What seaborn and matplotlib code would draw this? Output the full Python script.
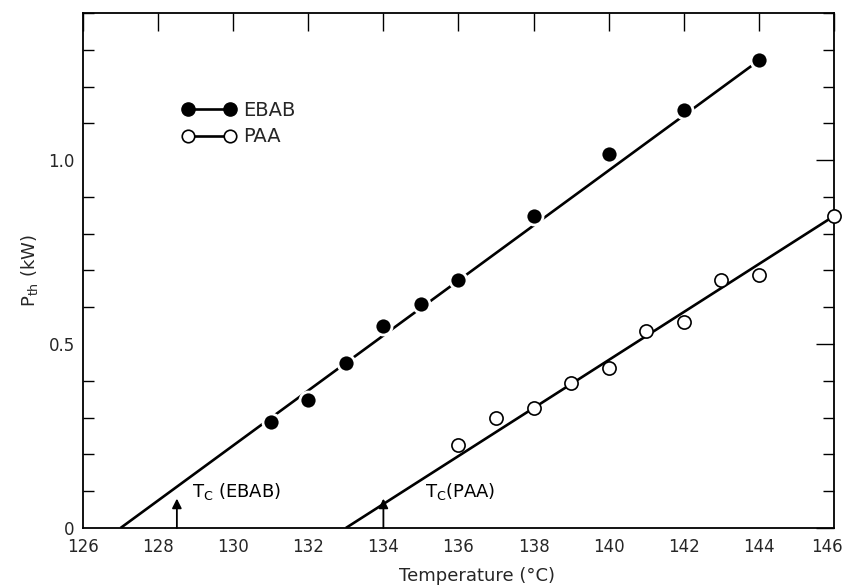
import numpy as np
import matplotlib
matplotlib.use('Agg')
import matplotlib.pyplot as plt
from matplotlib.lines import Line2D
from matplotlib.ticker import MultipleLocator, FixedLocator
from matplotlib.transforms import ScaledTranslation
import seaborn as sns

# measured threshold power vs temperature
ebab_temp = [131, 132, 133, 134, 135, 136, 138, 140, 142, 144]
ebab_pth = [0.288, 0.347, 0.449, 0.550, 0.608, 0.674, 0.847, 1.016, 1.137, 1.272]

paa_temp = [136, 137, 138, 139, 140, 141, 142, 143, 144, 146]
paa_pth = [0.226, 0.300, 0.327, 0.394, 0.435, 0.535, 0.560, 0.673, 0.689, 0.848]

# straight-line fits drawn through the data
ebab_fit_temp = [127.0, 143.8]
ebab_fit_pth = [0.0, 1.256]
paa_fit_temp = [133.0, 146.0]
paa_fit_pth = [0.0, 0.848]

# clearing temperatures
tc_ebab = 128.5
tc_paa = 134.0

x_ticks = list(range(126, 147, 2))

sns.set_theme(style='white')
plt.rcParams['font.family'] = ['DejaVu Sans']
plt.rcParams['mathtext.default'] = 'regular'

fig = plt.figure(figsize=(8.46, 5.85), dpi=100)
ax = fig.add_axes([83 / 846, 1 - 528 / 585, (834 - 83) / 846, (528 - 13) / 585])

ax.plot(ebab_fit_temp, ebab_fit_pth, color='black', lw=1.9, zorder=2, solid_capstyle='butt')
ax.plot(paa_fit_temp, paa_fit_pth, color='black', lw=1.9, zorder=2, solid_capstyle='butt')

sns.scatterplot(x=ebab_temp, y=ebab_pth, ax=ax, marker='o', s=150,
                color='black', edgecolor='white', linewidth=2.0, zorder=3, clip_on=False)
sns.scatterplot(x=paa_temp, y=paa_pth, ax=ax, marker='o', s=90,
                facecolor='white', edgecolor='black', linewidth=1.2, zorder=3, clip_on=False)

ax.set_xlim(126, 146)
ax.set_ylim(0, 1.4)

ax.xaxis.set_major_locator(FixedLocator(x_ticks))
ax.set_xticklabels([str(t) for t in x_ticks])
ax.yaxis.set_major_locator(FixedLocator([0, 0.5, 1.0]))
ax.set_yticklabels(['0', '0.5', '1.0'])
ax.yaxis.set_minor_locator(MultipleLocator(0.1))

ax.tick_params(axis='both', which='major', direction='in', length=13, width=1,
               color='black', labelsize=12, pad=7, top=True, right=True)
ax.tick_params(axis='y', which='minor', direction='in', length=8, width=1,
               color='black', left=True, right=True)
ax.tick_params(axis='y', which='major', pad=6)

# keep the last x label inside the figure, as in the original
last = ax.get_xticklabels()[-1]
last.set_transform(last.get_transform() + ScaledTranslation(-5 / 72, 0, fig.dpi_scale_trans))

for sp in ax.spines.values():
    sp.set_color('black')
    sp.set_linewidth(1.3)

ax.set_xlabel('Temperature (°C)', fontsize=13)
ax.xaxis.set_label_coords(0.525, -0.075)
ax.set_ylabel('P$_{th}$ (kW)', fontsize=13)
ax.yaxis.set_label_coords(-0.057, 0.5)

# clearing temperature markers
for tc, label, xt in [(tc_ebab, 'T$_C$ (EBAB)', 128.9), (tc_paa, 'T$_C$(PAA)', 135.1)]:
    ax.annotate('', xy=(tc, 0.08), xytext=(tc, 0.0),
                arrowprops=dict(arrowstyle='-|>', lw=1.3, color='black', mutation_scale=14,
                                shrinkA=0, shrinkB=0))
    ax.text(xt, 0.084, label, fontsize=13, ha='left', va='baseline', color='black')

handles = [
    Line2D([], [], color='black', lw=1.9, marker='o', markersize=9.5,
           markerfacecolor='black', markeredgecolor='black'),
    Line2D([], [], color='black', lw=1.9, marker='o', markersize=9,
           markerfacecolor='white', markeredgecolor='black', markeredgewidth=1.2),
]
ax.legend(handles, ['EBAB', 'PAA'], loc='upper left', bbox_to_anchor=(0.132, 0.83),
          frameon=False, numpoints=2, fontsize=14, handlelength=2.75,
          handletextpad=0.4, labelspacing=0.4, borderpad=0, borderaxespad=0)

plt.savefig('out.png', dpi=100)
plt.close()
